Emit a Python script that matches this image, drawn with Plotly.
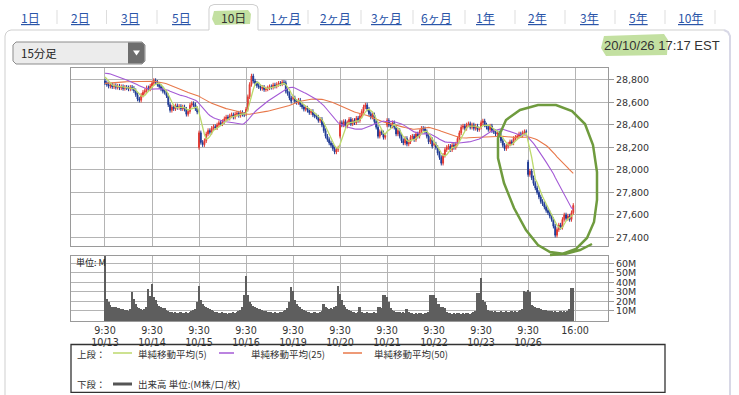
import plotly.graph_objects as go
import pandas as pd

W, H = 739, 395

# ---------------- data ----------------
days = ["10/13", "10/14", "10/15", "10/16", "10/19", "10/20", "10/21", "10/22", "10/23", "10/26"]
bars_per_day = 26  # 15-minute bars, 9:30 - 16:00

day_opens = [28790, 28745, 28200, 28500, 28640, 28300, 28400, 28230, 28380, 28070]

close_1013 = [28775, 28760, 28745, 28755, 28740, 28750, 28735, 28745, 28730, 28740, 28725, 28735, 28730,
              28720, 28735, 28725, 28705, 28670, 28630, 28620, 28665, 28690, 28705, 28730, 28720, 28745]
close_1014 = [28770, 28795, 28780, 28760, 28740, 28720, 28700, 28690, 28660, 28580, 28530, 28560, 28545,
              28570, 28555, 28565, 28545, 28560, 28540, 28495, 28520, 28575, 28590, 28580, 28545, 28515]
close_1015 = [28330, 28245, 28225, 28260, 28320, 28350, 28335, 28370, 28385, 28375, 28400, 28420, 28410,
              28430, 28455, 28470, 28460, 28480, 28490, 28470, 28495, 28505, 28485, 28510, 28495, 28490]
close_1016 = [28540, 28650, 28760, 28835, 28790, 28770, 28750, 28740, 28725, 28735, 28715, 28720, 28730,
              28740, 28735, 28755, 28745, 28760, 28770, 28765, 28780, 28775, 28700, 28680, 28640, 28610]
close_1019 = [28640, 28610, 28600, 28620, 28580, 28560, 28540, 28550, 28530, 28510, 28520, 28490, 28480,
              28470, 28440, 28450, 28400, 28350, 28300, 28270, 28240, 28220, 28190, 28160, 28180, 28195]
close_1020 = [28420, 28400, 28430, 28390, 28420, 28450, 28410, 28440, 28420, 28460, 28440, 28480, 28520,
              28560, 28578, 28540, 28500, 28470, 28490, 28430, 28380, 28300, 28340, 28330, 28290, 28310]
close_1021 = [28440, 28400, 28390, 28420, 28380, 28320, 28350, 28300, 28260, 28240, 28280, 28230, 28250,
              28290, 28300, 28270, 28320, 28300, 28340, 28370, 28365, 28340, 28300, 28250, 28270, 28210]
close_1022 = [28230, 28200, 28150, 28110, 28060, 28130, 28180, 28200, 28210, 28180, 28220, 28200, 28230,
              28280, 28330, 28380, 28390, 28370, 28400, 28410, 28380, 28400, 28370, 28390, 28360, 28363]
close_1023 = [28420, 28435, 28400, 28380, 28360, 28390, 28350, 28340, 28320, 28330, 28310, 28260, 28220,
              28190, 28210, 28230, 28250, 28240, 28280, 28290, 28300, 28320, 28310, 28330, 28340, 28335]
close_1026 = [27960, 27990, 27930, 27880, 27840, 27800, 27760, 27720, 27700, 27670, 27640, 27620, 27590,
              27560, 27500, 27420, 27470, 27510, 27490, 27560, 27600, 27570, 27590, 27560, 27620, 27685]

# volume, millions
vol_1013 = [68, 23, 20, 17, 15, 14, 14, 13, 13, 12, 12, 11, 11, 10, 12, 30, 23, 18, 14, 13, 12, 11, 12, 14, 33, 26]
vol_1014 = [39, 25, 22, 18, 16, 14, 13, 13, 11, 10, 9, 9, 8, 9, 8, 8, 9, 8, 8, 9, 8, 9, 10, 11, 12, 20]
vol_1015 = [37, 22, 18, 16, 14, 13, 12, 11, 10, 9, 9, 8, 8, 9, 8, 8, 7, 8, 8, 9, 8, 9, 10, 11, 15, 27]
vol_1016 = [47, 27, 20, 18, 16, 14, 13, 12, 12, 11, 10, 10, 9, 9, 9, 8, 9, 8, 8, 9, 9, 10, 11, 13, 20, 35]
vol_1019 = [31, 22, 18, 16, 14, 12, 11, 10, 9, 9, 8, 8, 9, 8, 8, 9, 10, 18, 14, 13, 12, 13, 12, 14, 16, 37]
vol_1020 = [28, 22, 17, 14, 12, 11, 10, 9, 9, 8, 9, 14, 9, 8, 8, 9, 8, 8, 8, 9, 8, 14, 14, 13, 27, 27]
vol_1021 = [25, 20, 13, 11, 10, 9, 9, 9, 8, 9, 8, 12, 9, 8, 8, 7, 8, 7, 8, 8, 7, 8, 8, 9, 27, 27]
vol_1022 = [27, 24, 18, 18, 15, 14, 13, 9, 8, 8, 7, 8, 7, 8, 8, 7, 8, 7, 8, 8, 7, 8, 9, 10, 29, 29]
vol_1023 = [45, 22, 20, 17, 11, 10, 10, 9, 10, 9, 9, 10, 9, 9, 10, 9, 9, 10, 9, 10, 9, 10, 11, 12, 31, 30]
vol_1026 = [32, 30, 17, 16, 14, 13, 13, 12, 11, 11, 11, 10, 10, 10, 9, 10, 9, 9, 10, 9, 10, 9, 10, 12, 34, 34]

# closes of the sessions before 10/13 (only used to warm up the moving averages)
prior_closes = [28660, 28670, 28680, 28690, 28680, 28700, 28690, 28680, 28670, 28690, 28680, 28670,
                28680, 28690, 28670, 28680, 28690, 28680, 28670, 28680, 28690, 28670, 28680, 28680,
                28660, 28700, 28760, 28820, 28850, 28870, 28880, 28900, 28890, 28910, 28880, 28870,
                28860, 28890, 28900, 28880, 28870, 28860, 28850, 28870, 28880, 28860, 28850, 28830,
                28840, 28837]

price_ticks = [27400, 27600, 27800, 28000, 28200, 28400, 28600, 28800]
vol_ticks = [10, 20, 30, 40, 50, 60]
vol_tick_text = ["10M", "20M", "30M", "40M", "50M", "60M"]

ma_periods = [5, 25, 50]
ma_names = ["単純移動平均(5)", "単純移動平均(25)", "単純移動平均(50)"]
ma_colors = ["#bcd96c", "#a45ad6", "#e8784a"]

# ---------------- build series ----------------
closes_by_day = [close_1013, close_1014, close_1015, close_1016, close_1019,
                 close_1020, close_1021, close_1022, close_1023, close_1026]
vols_by_day = [vol_1013, vol_1014, vol_1015, vol_1016, vol_1019,
               vol_1020, vol_1021, vol_1022, vol_1023, vol_1026]

xs, o, h, l, c, v = [], [], [], [], [], []
for d, (cl, vl) in enumerate(zip(closes_by_day, vols_by_day)):
    prev = day_opens[d]
    for i, (cc, vv) in enumerate(zip(cl, vl)):
        xs.append(d * bars_per_day + i)
        o.append(prev)
        c.append(cc)
        h.append(max(prev, cc) + 20)
        l.append(min(prev, cc) - 20)
        v.append(vv)
        prev = cc

all_close = pd.Series(prior_closes + c)
n_prior = len(prior_closes)
mas = [all_close.rolling(p).mean().iloc[n_prior:].tolist() for p in ma_periods]

tickvals = [d * bars_per_day for d in range(len(days))] + [len(days) * bars_per_day]
ticktext = [f"9:30<br>{d}" for d in days] + ["16:00<br> "]


def px(x):
    return x / W


def py(y):
    return 1 - y / H


fig = go.Figure()

fig.add_trace(go.Candlestick(
    x=xs, open=o, high=h, low=l, close=c,
    increasing=dict(line=dict(color="#e23a32", width=1), fillcolor="#e23a32"),
    decreasing=dict(line=dict(color="#1f3a94", width=1), fillcolor="#1f3a94"),
    whiskerwidth=0, showlegend=False, hoverinfo="skip",
    xaxis="x", yaxis="y"))

for ma, col, wdt in zip(mas[::-1], ma_colors[::-1], [1.1, 1.1, 1.3]):
    fig.add_trace(go.Scatter(x=xs, y=ma, mode="lines", line=dict(color=col, width=wdt),
                             showlegend=False, hoverinfo="skip", xaxis="x", yaxis="y"))

fig.add_trace(go.Bar(x=xs, y=v, marker=dict(color="#5e5e5e", line=dict(width=0)),
                     width=1.05, showlegend=False, hoverinfo="skip", xaxis="x2", yaxis="y2"))

GRID = "#b4b4b4"
FRAME = "#9a9a9a"
xr = [-18.8, 278.2]
axis_common = dict(showgrid=True, gridcolor=GRID, gridwidth=1, zeroline=False,
                   showline=True, linecolor=FRAME, linewidth=1, mirror=True, fixedrange=True)

fig.update_layout(
    width=W, height=H,
    margin=dict(l=0, r=0, t=0, b=0),
    paper_bgcolor="white", plot_bgcolor="white",
    bargap=0,
    xaxis=dict(domain=[px(71), px(608)], range=xr, tickvals=tickvals, showticklabels=False,
               ticks="", rangeslider=dict(visible=False), anchor="y", **axis_common),
    yaxis=dict(domain=[py(246), py(67.7)], range=[27324, 28909], side="right", anchor="x",
               tickvals=price_ticks, tickformat=",d", ticks="outside", ticklen=5, tickcolor=FRAME,
               tickfont=dict(family="DejaVu Sans", size=9.5, color="#333"), **axis_common),
    xaxis2=dict(domain=[px(71), px(608)], range=xr, tickvals=tickvals, ticktext=ticktext,
                ticks="", anchor="y2",
                tickfont=dict(family="DejaVu Sans", size=9.6, color="#333"), **axis_common),
    yaxis2=dict(domain=[py(321), py(255.7)], range=[-0.5, 67.9], side="right", anchor="x2",
                tickvals=vol_ticks, ticktext=vol_tick_text, ticks="outside", ticklen=5, tickcolor=FRAME,
                tickfont=dict(family="DejaVu Sans", size=9.5, color="#333"), **axis_common),
)

shapes = []
annos = []

JP = "Noto Sans CJK JP"


def path_from(points, close=False):
    s = "M " + " L ".join(f"{px(x):.5f},{py(y):.5f}" for x, y in points)
    return s + (" Z" if close else "")


# panel outline and tabs
shapes.append(dict(type="path", xref="paper", yref="paper", layer="below",
                   path=path_from([(5, 395), (5, 36), (6, 33), (8, 31), (11, 30), (209, 30),
                                   (209, 9), (210, 6), (214, 4.5), (253, 4.5), (257, 6), (258, 9),
                                   (258, 30), (724, 30)]),
                   line=dict(color="#cfcfcf", width=1)))
shapes.append(dict(type="path", xref="paper", yref="paper", layer="below",
                   path=path_from([(724, 30), (728, 32), (730, 36), (730, 395)]),
                   line=dict(color="#d8d8e6", width=2)))
for sx in [57, 106.5, 157, 308, 361, 413, 465, 515, 565, 615, 665, 715]:
    shapes.append(dict(type="line", xref="paper", yref="paper", layer="below",
                       x0=px(sx), x1=px(sx), y0=py(10), y1=py(24), line=dict(color="#dddddd", width=1)))

# highlighter marks
shapes.append(dict(type="path", xref="paper", yref="paper", layer="below",
                   path=path_from([(214, 11), (248, 10), (251, 14), (250, 24), (215, 25), (212, 19)], True),
                   fillcolor="rgba(175,214,130,0.75)", line=dict(width=0)))
shapes.append(dict(type="path", xref="paper", yref="paper", layer="below",
                   path=path_from([(604, 36), (664, 34), (668, 40), (667, 55), (606, 56), (601, 48)], True),
                   fillcolor="rgba(175,214,130,0.75)", line=dict(width=0)))

tabs = ["1日", "2日", "3日", "5日", "10日", "1ヶ月", "2ヶ月", "3ヶ月", "6ヶ月", "1年", "2年", "3年", "5年", "10年"]
tab_x = [30, 80, 130, 181.5, 233.5, 285, 335, 386, 436.5, 485, 537, 589, 638, 690]
for t, tx in zip(tabs, tab_x):
    sel = t == "10日"
    annos.append(dict(x=px(tx), y=py(17), xref="paper", yref="paper", showarrow=False,
                      text=t if sel else f"<u>{t}</u>", xanchor="center", yanchor="middle",
                      font=dict(family=JP, size=12, color="#333333" if sel else "#2a55a8")))

# dropdown
shapes.append(dict(type="path", xref="paper", yref="paper", layer="below",
                   path=path_from([(16, 42), (142, 42), (145, 45), (145, 61), (142, 64), (16, 64),
                                   (13, 61), (13, 45)], True),
                   fillcolor="#ececec", line=dict(color="#8c8c8c", width=1)))
shapes.append(dict(type="path", xref="paper", yref="paper", layer="below",
                   path=path_from([(128, 42.5), (142, 42.5), (144.5, 45), (144.5, 61), (142, 63.5),
                                   (128, 63.5)], True),
                   fillcolor="#6e6e6e", line=dict(width=0)))
shapes.append(dict(type="path", xref="paper", yref="paper", layer="above",
                   path=path_from([(133, 50.5), (140, 50.5), (136.5, 55.5)], True),
                   fillcolor="white", line=dict(width=0)))
annos.append(dict(x=px(19), y=py(53), xref="paper", yref="paper", showarrow=False, text="15分足",
                  xanchor="left", yanchor="middle", font=dict(family=JP, size=11.5, color="#222")))

annos.append(dict(x=px(722), y=py(45.5), xref="paper", yref="paper", showarrow=False,
                  text="20/10/26 17:17 EST", xanchor="right", yanchor="middle",
                  font=dict(family="Liberation Sans", size=13, color="#333")))

# volume unit
annos.append(dict(x=px(74), y=py(262), xref="paper", yref="paper", showarrow=False, text="単位: M",
                  xanchor="left", yanchor="middle", font=dict(family=JP, size=9, color="#222")))

# legend box
shapes.append(dict(type="rect", xref="paper", yref="paper", layer="below",
                   x0=px(71), x1=px(665), y0=py(392.3), y1=py(344.5),
                   line=dict(color="#333", width=1.3), fillcolor="white"))
annos.append(dict(x=px(75), y=py(354), xref="paper", yref="paper", showarrow=False, text="上段：",
                  xanchor="left", yanchor="middle", font=dict(family=JP, size=9.5, color="#333")))
leg_line_x = [(113, 132), (219, 234), (343, 362)]
leg_text_x = [136, 249, 372]
for (a, b), tx, nm, col in zip(leg_line_x, leg_text_x, ma_names, ma_colors):
    shapes.append(dict(type="line", xref="paper", yref="paper", x0=px(a), x1=px(b), y0=py(353), y1=py(353),
                       line=dict(color=col, width=1.5)))
    annos.append(dict(x=px(tx), y=py(354), xref="paper", yref="paper", showarrow=False, text=nm,
                      xanchor="left", yanchor="middle", font=dict(family=JP, size=9.5, color="#333")))
annos.append(dict(x=px(75), y=py(384), xref="paper", yref="paper", showarrow=False, text="下段：",
                  xanchor="left", yanchor="middle", font=dict(family=JP, size=9.5, color="#333")))
shapes.append(dict(type="line", xref="paper", yref="paper", x0=px(113), x1=px(132), y0=py(384), y1=py(384),
                   line=dict(color="#555", width=3)))
annos.append(dict(x=px(136), y=py(384), xref="paper", yref="paper", showarrow=False,
                  text="出来高 単位:(M株/口/枚)", xanchor="left", yanchor="middle",
                  font=dict(family=JP, size=9.5, color="#333")))

# hand-drawn green circle
circle_pts = [(592, 244), (580, 250), (565, 254), (550, 252), (538, 245), (526, 230), (514, 208),
              (504, 183), (498, 158), (498, 138), (506, 120), (520, 110), (538, 105), (556, 105),
              (572, 111), (585, 124), (593, 145), (597, 172), (597, 200), (594, 222), (587, 238),
              (576, 249), (562, 254), (550, 255)]
shapes.append(dict(type="path", xref="paper", yref="paper", layer="above", path=path_from(circle_pts),
                   line=dict(color="#6f9b3e", width=2.5)))

fig.update_layout(shapes=shapes, annotations=annos)

fig.write_html("out.html", config={"displayModeBar": False},
               post_script="document.body.style.margin='0px';document.body.style.overflow='hidden';")
